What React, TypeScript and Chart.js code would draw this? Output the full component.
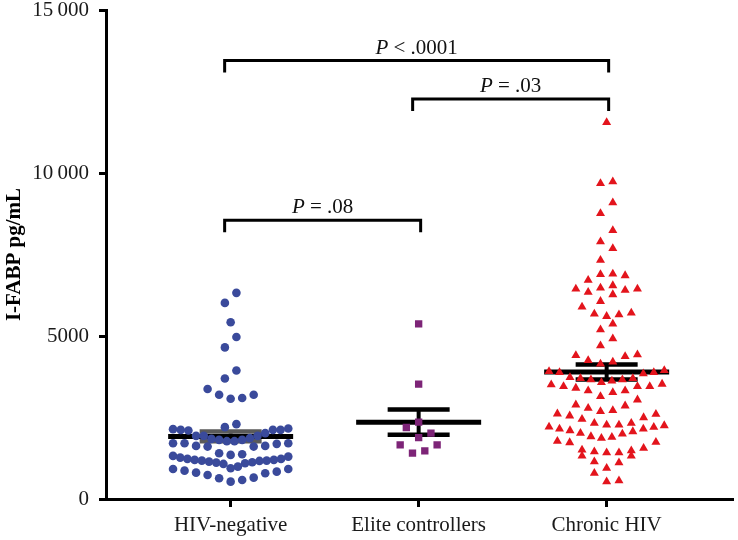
import React, { useEffect, useRef } from 'react';
import { Chart, registerables } from 'chart.js';

Chart.register(...registerables);

// ---------- data ----------
const categories = ['HIV-negative', 'Elite controllers', 'Chronic HIV'];

const hivNegative = [
  6323, 6016, 5420, 4971, 4651, 3944, 3698, 3372, 3197, 3197, 3096, 3074,
  2296, 2204, 2161, 2143, 2121, 2121, 2121, 2100, 2020,
  1937, 1937, 1937, 1866, 1844, 1814, 1814, 1774, 1774,
  1712, 1712, 1712, 1691, 1629, 1629, 1608, 1608,
  1405, 1374, 1353,
  1322, 1300, 1270, 1230, 1230, 1199, 1199, 1178, 1178, 1168, 1147, 1128, 1117, 1096, 1076, 993, 943,
  922, 922, 870, 839, 808, 790, 738, 655, 636, 584, 532,
];

const eliteControllers = [5370, 3526, 2358, 2192, 2020, 1884, 1660, 1660, 1476, 1405];

const chronicHiv = [
  11549, 9735, 9683, 9090, 8761, 8238, 7891, 7685, 7326, 6907, 6886, 6855, 6711, 6548, 6477, 6446, 6446, 6404, 6342, 6271,
  6065, 5893, 5709, 5678, 5656, 5604, 5370, 5195, 4919, 4703, 4427, 4405, 4374, 4252, 4202, 4141,
  3944, 3913, 3883, 3883, 3843,
  3729, 3698, 3698, 3658, 3658, 3620, 3575,
  3526, 3504, 3452, 3452, 3452, 3403,
  3320, 3320, 3268, 3145, 3043,
  2890, 2859, 2788, 2714, 2684,
  2613, 2604, 2552, 2499, 2450,
  2327, 2327, 2275, 2275, 2253, 2213, 2204, 2152, 2152, 2100, 2069, 2020, 1998, 1915, 1896, 1866,
  1774, 1743, 1731, 1559, 1485,
  1506, 1454, 1423, 1423, 1322,
  1322, 1147, 1116,
  944, 790,
  563, 532,
];

const yTicks = [0, 5000, 10000, 15000];

// significance brackets
const bracketFrom = [1, 2, 1];
const bracketTo = [3, 3, 2];
const bracketLevel = [13450, 12270, 8550];
const bracketSign = ['<', '=', '='];
const bracketP = ['.0001', '.03', '.08'];

// ---------- layout / style ----------
const X_MIN = 0.337;
const X_MAX = 3.671;
const PX_PER_CAT = 189.25;
const ROW_BIN = 400; // value span grouped in one swarm row
const colors = ['#3a4a9b', '#7d2477', '#e3141c'];
const semColors = ['#5a5a5a', '#000000', '#000000'];
const FONT = "'Liberation Serif', 'Times New Roman', serif";

function swarm(values: number[], center: number, spacingPx: number, maxHalfPx: number) {
  const idx = values.map((_, i) => i).sort((a, b) => values[a] - values[b]);
  const out: { x: number; y: number }[] = new Array(values.length);
  let i = 0;
  while (i < idx.length) {
    const start = values[idx[i]];
    const row: number[] = [];
    while (i < idx.length && values[idx[i]] < start + ROW_BIN) {
      row.push(idx[i]);
      i++;
    }
    const n = row.length;
    let sp = spacingPx;
    if (n > 1 && ((n - 1) * sp) / 2 > maxHalfPx) sp = (2 * maxHalfPx) / (n - 1);
    row.forEach((k, j) => {
      let slot: number;
      if (n % 2 === 1) {
        slot = j === 0 ? 0 : j % 2 === 1 ? (j + 1) / 2 : -j / 2;
      } else {
        const m = Math.floor(j / 2) + 0.5;
        slot = j % 2 === 0 ? -m : m;
      }
      out[k] = { x: center + (slot * sp) / PX_PER_CAT, y: values[k] };
    });
  }
  return out;
}

const groups = [hivNegative, eliteControllers, chronicHiv];

function stats(v: number[]) {
  const n = v.length;
  const mean = v.reduce((a, b) => a + b, 0) / n;
  const sd = Math.sqrt(v.reduce((a, b) => a + (b - mean) * (b - mean), 0) / (n - 1));
  return { mean, sem: sd / Math.sqrt(n) };
}

function fmtTick(v: number) {
  if (v >= 10000) {
    const s = String(v);
    return s.slice(0, s.length - 3) + '\u2009' + s.slice(s.length - 3);
  }
  return String(v);
}

const overlayPlugin = {
  id: 'overlay',
  beforeDatasetsDraw(chart: any) {
    const { ctx, scales } = chart;
    const x = scales.x;
    const y = scales.y;
    ctx.save();
    groups.forEach((vals, gi) => {
      const { mean, sem } = stats(vals);
      const cx = x.getPixelForValue(gi + 1);
      const my = y.getPixelForValue(mean);
      const top = y.getPixelForValue(mean + sem);
      const bot = y.getPixelForValue(mean - sem);
      ctx.strokeStyle = semColors[gi];
      ctx.lineCap = 'butt';
      ctx.lineWidth = 4;
      ctx.beginPath();
      ctx.moveTo(cx, top);
      ctx.lineTo(cx, bot);
      ctx.stroke();
      ctx.lineWidth = 4.5;
      ctx.beginPath();
      ctx.moveTo(cx - 31, top);
      ctx.lineTo(cx + 31, top);
      ctx.moveTo(cx - 31, bot);
      ctx.lineTo(cx + 31, bot);
      ctx.stroke();
      ctx.strokeStyle = '#000';
      ctx.lineWidth = 5;
      ctx.beginPath();
      ctx.moveTo(cx - 62.5, my);
      ctx.lineTo(cx + 62.5, my);
      ctx.stroke();
    });
    ctx.restore();
  },
  afterDatasetsDraw(chart: any) {
    const { ctx, scales } = chart;
    const x = scales.x;
    const y = scales.y;
    ctx.save();
    bracketFrom.forEach((f, i) => {
      const x1 = x.getPixelForValue(f) - 6;
      const x2 = x.getPixelForValue(bracketTo[i]) + 2;
      const by = y.getPixelForValue(bracketLevel[i]);
      ctx.strokeStyle = '#000';
      ctx.lineWidth = 3;
      ctx.lineCap = 'butt';
      ctx.lineJoin = 'miter';
      ctx.beginPath();
      ctx.moveTo(x1, by + 12);
      ctx.lineTo(x1, by);
      ctx.lineTo(x2, by);
      ctx.lineTo(x2, by + 12);
      ctx.stroke();

      const italic = `italic 21px ${FONT}`;
      const upright = `21px ${FONT}`;
      const rest = ` ${bracketSign[i]} ${bracketP[i]}`;
      ctx.font = italic;
      const w1 = ctx.measureText('P').width;
      ctx.font = upright;
      const w2 = ctx.measureText(rest).width;
      const start = (x1 + x2) / 2 - (w1 + w2) / 2;
      ctx.fillStyle = '#111';
      ctx.textBaseline = 'alphabetic';
      ctx.textAlign = 'left';
      ctx.font = italic;
      ctx.fillText('P', start, by - 7);
      ctx.font = upright;
      ctx.fillText(rest, start + w1, by - 7);
    });
    ctx.restore();
  },
};

export default function App() {
  const ref = useRef<HTMLCanvasElement>(null);
  useEffect(() => {
    document.body.style.margin = '0';
    const canvas = ref.current;
    if (!canvas) return;
    const shapes = ['circle', 'rect', 'triangle'];
    const radii = [4.3, 5.2, 5.2];
    const spacings = [11.6, 12.4, 12.4];
    const chart = new Chart(canvas, {
      type: 'scatter',
      data: {
        datasets: groups.map((vals, gi) => ({
          label: categories[gi],
          data: swarm(vals, gi + 1, spacings[gi], 58),
          pointStyle: shapes[gi] as any,
          pointRadius: radii[gi],
          pointBackgroundColor: colors[gi],
          pointBorderColor: colors[gi],
          pointBorderWidth: 0,
          showLine: false,
        })),
      },
      options: {
        animation: false,
        responsive: true,
        maintainAspectRatio: false,
        layout: { padding: { top: 10, right: 1, left: 0, bottom: 0 } },
        plugins: {
          legend: { display: false },
          tooltip: { enabled: false },
        },
        scales: {
          x: {
            type: 'linear',
            min: X_MIN,
            max: X_MAX,
            afterBuildTicks: (scale: any) => {
              scale.ticks = categories.map((_, i) => ({ value: i + 1 }));
            },
            afterFit: (scale: any) => {
              scale.height = 41;
              scale.paddingLeft = 0;
              scale.paddingRight = 0;
            },
            ticks: {
              callback: (v: any) => categories[Math.round(Number(v)) - 1] ?? '',
              font: { family: FONT, size: 21 },
              color: '#1a1a1a',
              padding: 6,
              maxRotation: 0,
              autoSkip: false,
            },
            grid: {
              drawOnChartArea: false,
              drawTicks: true,
              tickLength: 8,
              lineWidth: 3,
              color: '#000',
            },
            border: { display: true, color: '#000', width: 3 },
          },
          y: {
            type: 'linear',
            min: 0,
            max: 15000,
            afterBuildTicks: (scale: any) => {
              scale.ticks = yTicks.map((v) => ({ value: v }));
            },
            afterFit: (scale: any) => {
              scale.width = 106;
              scale.paddingTop = 0;
              scale.paddingBottom = 0;
            },
            ticks: {
              callback: (v: any) => fmtTick(Number(v)),
              font: { family: FONT, size: 21 },
              color: '#1a1a1a',
              padding: 10,
            },
            grid: {
              drawOnChartArea: false,
              drawTicks: true,
              tickLength: 7,
              lineWidth: 3,
              color: '#000',
            },
            border: { display: true, color: '#000', width: 3 },
            title: {
              display: true,
              text: 'I-FABP pg/mL',
              font: { family: FONT, size: 21, weight: 'bold' },
              color: '#000',
              padding: { top: 2, bottom: 0 },
            },
          },
        },
      },
      plugins: [overlayPlugin],
    } as any);
    return () => chart.destroy();
  }, []);
  return (
    <div style={{ position: 'absolute', left: 0, top: 0, width: 738, height: 540 }}>
      <canvas ref={ref} />
    </div>
  );
}
